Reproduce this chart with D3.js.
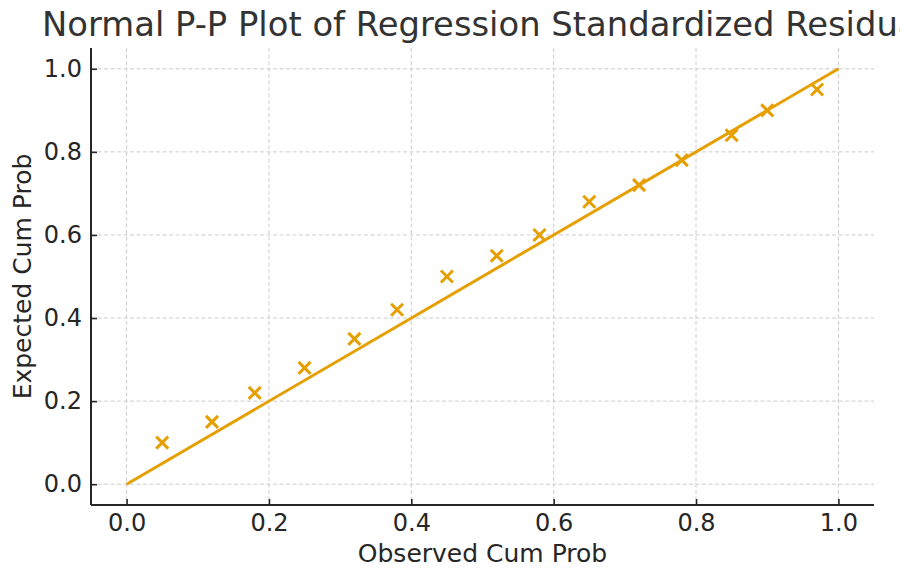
<!DOCTYPE html>
<html><head><meta charset="utf-8">
<script src="https://cdn.jsdelivr.net/npm/d3@7"></script>
<style>body{margin:0;background:#fff;} svg{display:block;font-family:"DejaVu Sans",sans-serif;}</style>
</head><body><svg id="c" width="900" height="570"></svg>
<script>
const observed = [0.05,0.12,0.18,0.25,0.32,0.38,0.45,0.52,0.58,0.65,0.72,0.78,0.85,0.90,0.97];
const expected = [0.10,0.15,0.22,0.28,0.35,0.42,0.50,0.55,0.60,0.68,0.72,0.78,0.84,0.90,0.95];
const refLine = [0,1];
const ticks = [0,0.2,0.4,0.6,0.8,1.0];
const title = "Normal P-P Plot of Regression Standardized Residuals";
const xLabel = "Observed Cum Prob", yLabel = "Expected Cum Prob";

const W=900,H=570, m={l:91,r:26,t:48,b:65};
const svg=d3.select("#c");
const x=d3.scaleLinear().domain([-0.05,1.05]).range([m.l,W-m.r]);
const y=d3.scaleLinear().domain([-0.05,1.05]).range([H-m.b,m.t]);
const col="#E69F00", txt="#262626";

const g=svg.append("g");
// grid
g.selectAll(".gx").data(ticks).join("line").attr("x1",d=>x(d)).attr("x2",d=>x(d)).attr("y1",m.t).attr("y2",H-m.b)
 .attr("stroke","#cccccc").attr("stroke-width",1).attr("stroke-dasharray","4,2.5");
g.selectAll(".gy").data(ticks).join("line").attr("y1",d=>y(d)).attr("y2",d=>y(d)).attr("x1",m.l).attr("x2",W-m.r)
 .attr("stroke","#cccccc").attr("stroke-width",1).attr("stroke-dasharray","4,2.5");

// axes
const xa=svg.append("g").attr("transform",`translate(0,${H-m.b})`).call(d3.axisBottom(x).tickValues(ticks).tickFormat(d3.format(".1f")).tickSizeInner(-6).tickSizeOuter(0).tickPadding(9));
const ya=svg.append("g").attr("transform",`translate(${m.l},0)`).call(d3.axisLeft(y).tickValues(ticks).tickFormat(d3.format(".1f")).tickSizeInner(-6).tickSizeOuter(0).tickPadding(9));
[xa,ya].forEach(a=>{a.select(".domain").attr("stroke",txt).attr("stroke-width",2);
 a.selectAll(".tick line").attr("stroke",txt).attr("stroke-width",1.6);
 a.selectAll("text").attr("fill",txt).style("font-size","24px").style("font-family","DejaVu Sans");});
xa.select(".domain").attr("d",`M${m.l},0H${W-m.r}`);
ya.select(".domain").attr("d",`M0,${m.t}V${H-m.b}`);

// line
svg.append("line").attr("x1",x(refLine[0])).attr("y1",y(refLine[0])).attr("x2",x(refLine[1])).attr("y2",y(refLine[1]))
 .attr("stroke",col).attr("stroke-width",3);
// markers
const s=6;
svg.append("g").selectAll("path").data(observed.map((o,i)=>[o,expected[i]])).join("path")
 .attr("d",d=>{const cx=x(d[0]),cy=y(d[1]);return `M${cx-s},${cy-s}L${cx+s},${cy+s}M${cx-s},${cy+s}L${cx+s},${cy-s}`;})
 .attr("stroke",col).attr("stroke-width",3).attr("fill","none");

svg.append("text").attr("x",42).attr("y",36).attr("text-anchor","start").attr("fill","#333").style("font-size","33.8px").text(title);
svg.append("text").attr("x",(m.l+W-m.r)/2).attr("y",562).attr("text-anchor","middle").attr("fill",txt).style("font-size","25px").text(xLabel);
svg.append("text").attr("transform",`translate(31,${(m.t+H-m.b)/2}) rotate(-90)`).attr("text-anchor","middle").attr("fill",txt).style("font-size","25px").text(yLabel);
</script></body></html>
